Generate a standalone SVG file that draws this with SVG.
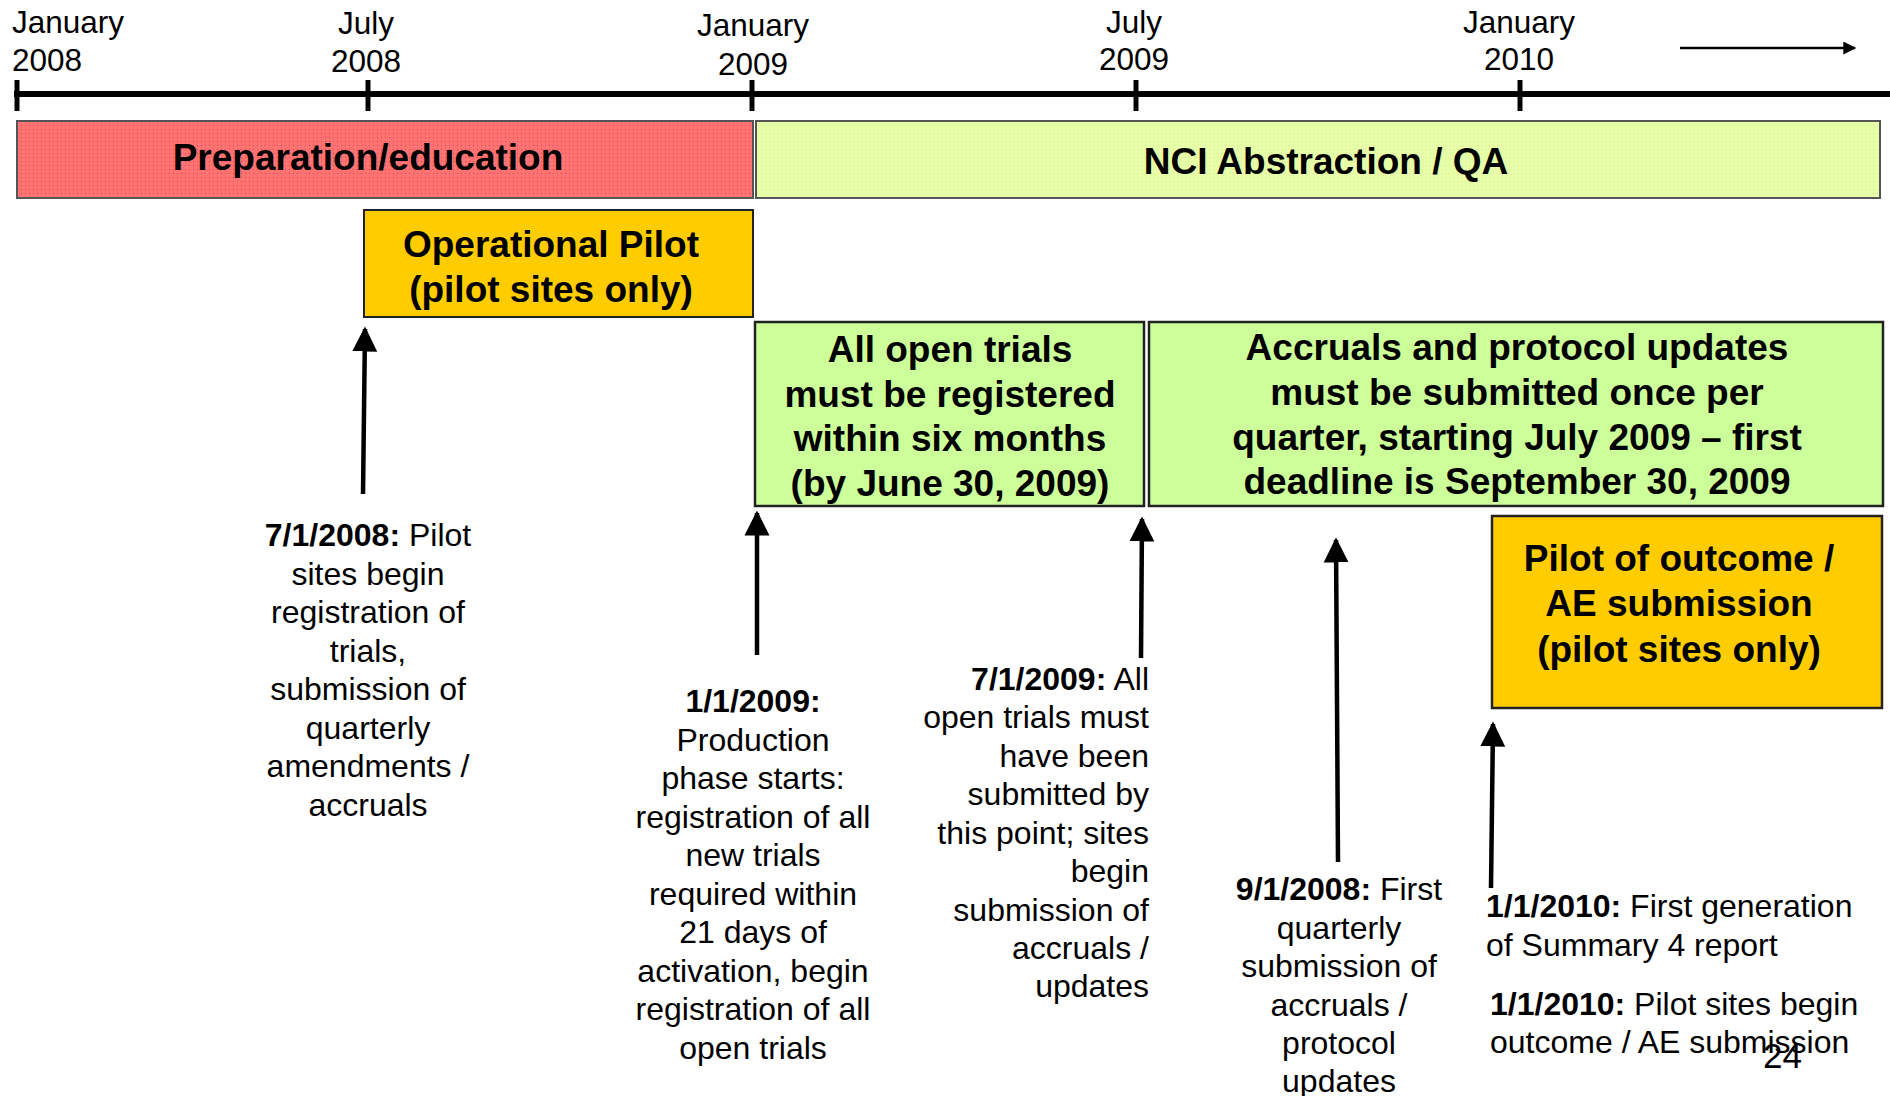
<svg xmlns="http://www.w3.org/2000/svg" width="1890" height="1096" viewBox="0 0 1890 1096">
<defs>
<style>
text{font-family:"Liberation Sans",Arial,sans-serif;fill:#000}
.lbl{font-size:31.5px}
.box{font-size:37px;font-weight:bold;text-anchor:middle}
.note{font-size:32px}
.b{font-weight:bold}
.mid{text-anchor:middle}
.end{text-anchor:end}
.axis{stroke:#000;stroke-width:6;fill:none}
.tick{stroke:#000;stroke-width:5}
.conn{stroke:#000;stroke-width:4.5;fill:none;marker-end:url(#ah)}
</style>
<pattern id="redtex" width="4" height="4" patternUnits="userSpaceOnUse">
<rect width="4" height="4" fill="#FF7373"/>
<rect x="1" y="1" width="1" height="1" fill="#E0404C"/>
</pattern>
<pattern id="greentex" width="4" height="4" patternUnits="userSpaceOnUse">
<rect width="4" height="4" fill="#E6FFA8"/>
<rect x="1" y="1" width="1" height="1" fill="#D4F08C"/>
</pattern>
<marker id="ah" viewBox="0 0 10 10" refX="9" refY="5" markerUnits="userSpaceOnUse" markerWidth="25" markerHeight="26" orient="auto">
<path d="M0,0 L10,5 L0,10 Z" fill="#000"/>
</marker>
<marker id="ahs" viewBox="0 0 10 10" refX="9" refY="5" markerUnits="userSpaceOnUse" markerWidth="15" markerHeight="13" orient="auto">
<path d="M0,0 L10,5 L0,10 Z" fill="#000"/>
</marker>
</defs>
<rect width="1890" height="1096" fill="#fff"/>
<g id="timeline">
<line class="axis" x1="14" y1="94" x2="1890" y2="94"/>
<line class="tick" x1="17" y1="80" x2="17" y2="111"/>
<line class="tick" x1="368" y1="80" x2="368" y2="111"/>
<line class="tick" x1="752" y1="80" x2="752" y2="111"/>
<line class="tick" x1="1136" y1="80" x2="1136" y2="111"/>
<line class="tick" x1="1520" y1="80" x2="1520" y2="111"/>
<text class="lbl" x="12" y="33">January</text>
<text class="lbl" x="12" y="71">2008</text>
<text class="lbl mid" x="366" y="34">July</text>
<text class="lbl mid" x="366" y="72">2008</text>
<text class="lbl mid" x="753" y="36">January</text>
<text class="lbl mid" x="753" y="75">2009</text>
<text class="lbl mid" x="1134" y="33">July</text>
<text class="lbl mid" x="1134" y="70">2009</text>
<text class="lbl mid" x="1519" y="33">January</text>
<text class="lbl mid" x="1519" y="70">2010</text>
<line x1="1680" y1="48" x2="1855" y2="48" stroke="#000" stroke-width="2.5" marker-end="url(#ahs)"/>
</g>
<g id="prep">
<rect x="17" y="121" width="736" height="77" fill="url(#redtex)" stroke="#555" stroke-width="2"/>
<text class="box" x="368" y="170">Preparation/education</text>
</g>
<g id="nci">
<rect x="756" y="121" width="1124" height="77" fill="url(#greentex)" stroke="#555" stroke-width="2"/>
<text class="box" x="1326" y="174">NCI Abstraction / QA</text>
</g>
<g id="oppilot">
<rect x="364" y="210" width="389" height="107" fill="#FFCC00" stroke="#222" stroke-width="2"/>
<text class="box" x="551" y="257">Operational Pilot</text>
<text class="box" x="551" y="302">(pilot sites only)</text>
</g>
<g id="allopen">
<rect x="755" y="322" width="389" height="184" fill="#CCFF99" stroke="#222" stroke-width="2.5"/>
<text class="box" x="950" y="362">All open trials</text>
<text class="box" x="950" y="407">must be registered</text>
<text class="box" x="950" y="451">within six months</text>
<text class="box" x="950" y="496">(by June 30, 2009)</text>
</g>
<g id="accruals">
<rect x="1149" y="322" width="734" height="184" fill="#CCFF99" stroke="#222" stroke-width="2.5"/>
<text class="box" x="1517" y="360">Accruals and protocol updates</text>
<text class="box" x="1517" y="405">must be submitted once per</text>
<text class="box" x="1517" y="450">quarter, starting July 2009 – first</text>
<text class="box" x="1517" y="494">deadline is September 30, 2009</text>
</g>
<g id="outcome">
<rect x="1492" y="516" width="390" height="192" fill="#FFCC00" stroke="#222" stroke-width="2.5"/>
<text class="box" x="1679" y="571">Pilot of outcome /</text>
<text class="box" x="1679" y="616">AE submission</text>
<text class="box" x="1679" y="662">(pilot sites only)</text>
</g>
<g id="connectors">
<line class="conn" x1="363" y1="494" x2="365" y2="329"/>
<line class="conn" x1="757" y1="655" x2="757" y2="513"/>
<line class="conn" x1="1141" y1="658" x2="1142" y2="519"/>
<line class="conn" x1="1338" y1="862" x2="1336" y2="540"/>
<line class="conn" x1="1491" y1="888" x2="1493" y2="724"/>
</g>
<g id="note-20080701" class="note">
<text class="mid" x="368" y="546"><tspan class="b">7/1/2008:</tspan> Pilot</text>
<text class="mid" x="368" y="585">sites begin</text>
<text class="mid" x="368" y="623">registration of</text>
<text class="mid" x="368" y="662">trials,</text>
<text class="mid" x="368" y="700">submission of</text>
<text class="mid" x="368" y="739">quarterly</text>
<text class="mid" x="368" y="777">amendments /</text>
<text class="mid" x="368" y="816">accruals</text>
</g>
<g id="note-20090101" class="note">
<text class="mid b" x="753" y="712">1/1/2009:</text>
<text class="mid" x="753" y="751">Production</text>
<text class="mid" x="753" y="789">phase starts:</text>
<text class="mid" x="753" y="828">registration of all</text>
<text class="mid" x="753" y="866">new trials</text>
<text class="mid" x="753" y="905">required within</text>
<text class="mid" x="753" y="943">21 days of</text>
<text class="mid" x="753" y="982">activation, begin</text>
<text class="mid" x="753" y="1020">registration of all</text>
<text class="mid" x="753" y="1059">open trials</text>
</g>
<g id="note-20090701" class="note">
<text class="end" x="1149" y="690"><tspan class="b">7/1/2009:</tspan> All</text>
<text class="end" x="1149" y="728">open trials must</text>
<text class="end" x="1149" y="767">have been</text>
<text class="end" x="1149" y="805">submitted by</text>
<text class="end" x="1149" y="844">this point; sites</text>
<text class="end" x="1149" y="882">begin</text>
<text class="end" x="1149" y="921">submission of</text>
<text class="end" x="1149" y="959">accruals /</text>
<text class="end" x="1149" y="997">updates</text>
</g>
<g id="note-20080901" class="note">
<text class="mid" x="1339" y="900"><tspan class="b">9/1/2008:</tspan> First</text>
<text class="mid" x="1339" y="939">quarterly</text>
<text class="mid" x="1339" y="977">submission of</text>
<text class="mid" x="1339" y="1016">accruals /</text>
<text class="mid" x="1339" y="1054">protocol</text>
<text class="mid" x="1339" y="1092">updates</text>
</g>
<g id="note-20100101a" class="note">
<text x="1486" y="917"><tspan class="b">1/1/2010:</tspan> First generation</text>
<text x="1486" y="956">of Summary 4 report</text>
</g>
<g id="note-20100101b" class="note">
<text x="1490" y="1015"><tspan class="b">1/1/2010:</tspan> Pilot sites begin</text>
<text x="1490" y="1053">outcome / AE submission</text>
</g>
<text x="1763" y="1068" font-size="35">24</text>
</svg>
